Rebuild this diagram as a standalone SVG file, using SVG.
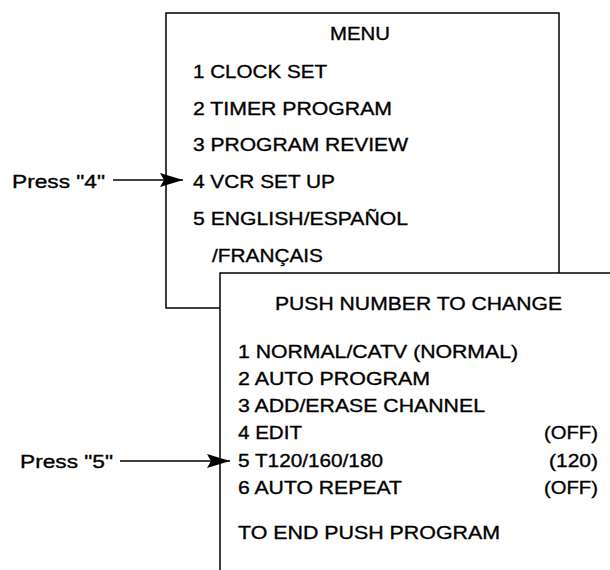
<svg xmlns="http://www.w3.org/2000/svg" width="610" height="570" viewBox="0 0 610 570">
<style>
  text { font-family: "Liberation Sans", Arial, sans-serif; font-size: 19px; fill: #000; stroke: #000; stroke-width: 0.35; }
  .box { fill: #fff; stroke: #000; stroke-width: 1.5; }
  .conn { stroke: #000; stroke-width: 1.3; fill: none; }
</style>
<defs>
  <marker id="ah" markerUnits="userSpaceOnUse" markerWidth="24" markerHeight="14" refX="23" refY="7" orient="auto">
    <path d="M0,0 L23,7 L0,14 L4,7 z" fill="#000"/>
  </marker>
</defs>
<g id="menu">
  <rect class="box" x="166" y="13" width="393" height="295"/>
  <text x="330" y="40" textLength="60" lengthAdjust="spacingAndGlyphs">MENU</text>
  <text x="193" y="78" textLength="134" lengthAdjust="spacingAndGlyphs">1 CLOCK SET</text>
  <text x="193" y="115" textLength="199" lengthAdjust="spacingAndGlyphs">2 TIMER PROGRAM</text>
  <text x="193" y="151" textLength="215" lengthAdjust="spacingAndGlyphs">3 PROGRAM REVIEW</text>
  <text x="193" y="188" textLength="142" lengthAdjust="spacingAndGlyphs">4 VCR SET UP</text>
  <text x="193" y="225" textLength="215" lengthAdjust="spacingAndGlyphs">5 ENGLISH/ESPAÑOL</text>
  <text x="212" y="262" textLength="111" lengthAdjust="spacingAndGlyphs">/FRANÇAIS</text>
</g>
<g id="setup">
  <rect class="box" x="220" y="273" width="400" height="310"/>
  <text x="275" y="310" textLength="287" lengthAdjust="spacingAndGlyphs">PUSH NUMBER TO CHANGE</text>
  <text x="238" y="358" textLength="280" lengthAdjust="spacingAndGlyphs">1 NORMAL/CATV (NORMAL)</text>
  <text x="238" y="385" textLength="192" lengthAdjust="spacingAndGlyphs">2 AUTO PROGRAM</text>
  <text x="238" y="412" textLength="247" lengthAdjust="spacingAndGlyphs">3 ADD/ERASE CHANNEL</text>
  <text x="238" y="439" textLength="64" lengthAdjust="spacingAndGlyphs">4 EDIT</text>
  <text x="544" y="439" textLength="54" lengthAdjust="spacingAndGlyphs">(OFF)</text>
  <text x="238" y="467" textLength="145" lengthAdjust="spacingAndGlyphs">5 T120/160/180</text>
  <text x="549" y="467" textLength="49" lengthAdjust="spacingAndGlyphs">(120)</text>
  <text x="238" y="494" textLength="164" lengthAdjust="spacingAndGlyphs">6 AUTO REPEAT</text>
  <text x="544" y="494" textLength="54" lengthAdjust="spacingAndGlyphs">(OFF)</text>
  <text x="238" y="539" textLength="262" lengthAdjust="spacingAndGlyphs">TO END PUSH PROGRAM</text>
</g>
<g id="press4">
  <text x="12" y="188" textLength="93" lengthAdjust="spacingAndGlyphs">Press "4"</text>
</g>
<g id="press5">
  <text x="20" y="468" textLength="93" lengthAdjust="spacingAndGlyphs">Press "5"</text>
</g>
<g id="connectors">
  <line class="conn" x1="113" y1="180" x2="183" y2="180" marker-end="url(#ah)"/>
  <line class="conn" x1="120" y1="461" x2="230" y2="461" marker-end="url(#ah)"/>
</g>
</svg>
